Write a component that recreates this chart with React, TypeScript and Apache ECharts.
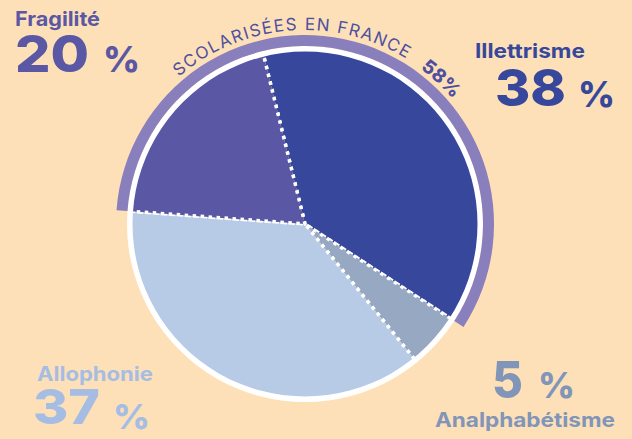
import React, { useEffect, useRef } from 'react';
import * as echarts from 'echarts';

// ---------- data ----------
const categories = ['Illettrisme', 'Analphabétisme', 'Allophonie', 'Fragilité'];
const values = [38, 5, 37, 20];
const arcCategories = ['Fragilité', 'Illettrisme'];
const arcCaption = 'SCOLARISÉES EN FRANCE';
const unit = '%';

// ---------- styles ----------
const BG = '#fde0b8';
const sliceColors: Record<string, string> = {
  Illettrisme: '#36479c',
  Analphabétisme: '#97a8c3',
  Allophonie: '#b8cbe6',
  Fragilité: '#5a58a4',
};
const labelColors: Record<string, string> = {
  Illettrisme: '#36479c',
  Analphabétisme: '#8195b8',
  Allophonie: '#a5bde3',
  Fragilité: '#5a57a4',
};
const ARC_COLOR = '#8a7fbd';
const CAPTION_COLOR = '#4e509f';
const FONT = 'Inter';

const CX = 305;
const CY = 224;
const R = 178;
const START_ANGLE = 103.8;

// label layout: left x, vertical centre of caps, target widths, font sizes
const layout: Record<string, any> = {
  Fragilité: { nameX: 15, nameY: 19, nameW: 85, valX: 15, valY: 53, valW: 74, valS: 51, pctX: 103, pctY: 59, pctS: 36 },
  Illettrisme: { nameX: 475, nameY: 50.5, nameW: 110, valX: 495, valY: 87.5, valW: 71, valS: 51, pctX: 578, pctY: 93.5, pctS: 36 },
  Analphabétisme: { nameX: 435, nameY: 419, nameW: 180, valX: 492, valY: 379.5, valW: 31, valS: 51, pctX: 538, pctY: 384.5, pctS: 36 },
  Allophonie: { nameX: 37, nameY: 374, nameW: 116, valX: 33, valY: 407, valW: 67, valS: 48, pctX: 113, pctY: 416, pctS: 34 },
};
const PCT_W = 37;

export default function App() {
  const ref = useRef<HTMLDivElement>(null);

  useEffect(() => {
    if (!ref.current) return;
    const chart = echarts.init(ref.current, undefined, { renderer: 'svg' });
    const ctx = document.createElement('canvas').getContext('2d')!;
    const measure = (t: string, font: string) => {
      ctx.font = font;
      return ctx.measureText(t).width;
    };

    const total = values.reduce((a, b) => a + b, 0);
    const arcValue = arcCategories.reduce((s, c) => s + values[categories.indexOf(c)], 0);
    const fragIdx = categories.indexOf(arcCategories[0]);
    const before = values.slice(0, fragIdx).reduce((a, b) => a + b, 0);
    const arcStart = START_ANGLE - (360 * before) / total + 360;

    const graphics: any[] = [];
    const txt = (
      text: string,
      x: number,
      y: number,
      font: string,
      size: number,
      fill: string,
      rotation = 0,
      align = 'left',
      scaleX = 1
    ) => ({
      type: 'text',
      x,
      y,
      rotation,
      scaleX,
      silent: true,
      style: {
        text,
        font,
        fill,
        lineHeight: Math.round(size * 0.8),
        align,
        textAlign: align,
        verticalAlign: 'middle',
        textVerticalAlign: 'middle',
      },
    });

    const fitted = (text: string, x: number, y: number, weight: number, size: number, fill: string, targetW: number) => {
      const font = `${weight} ${size}px ${FONT}`;
      const w = measure(text, font);
      const s = Math.max(0.85, Math.min(1.3, targetW / w));
      return txt(text, x, y, font, size, fill, 0, 'left', s);
    };

    categories.forEach((c, i) => {
      const L = layout[c];
      graphics.push(fitted(c, L.nameX, L.nameY, 700, 20, labelColors[c], L.nameW));
      graphics.push(fitted(String(values[i]), L.valX, L.valY, 800, L.valS, labelColors[c], L.valW));
      graphics.push(fitted(unit, L.pctX, L.pctY, 800, L.pctS, labelColors[c], PCT_W));
    });

    // curved caption
    const capSize = 17;
    const capFont = `400 ${capSize}px ${FONT}`;
    const rText = 200;
    const a0 = 129;
    const a1 = 60;
    const chars = Array.from(arcCaption);
    const ws = chars.map((ch) => measure(ch, capFont));
    const natural = ws.reduce((s, w, i) => (i === 0 ? 0 : s + ws[i - 1] / 2 + w / 2), 0);
    const target = (rText * (a0 - a1) * Math.PI) / 180;
    const ls = (target - natural) / (chars.length - 1);
    let pos = 0;
    chars.forEach((ch, i) => {
      if (i > 0) pos += ws[i - 1] / 2 + ls + ws[i] / 2;
      const ang = a0 - ((pos / rText) * 180) / Math.PI;
      const rad = (ang * Math.PI) / 180;
      if (ch !== ' ')
        graphics.push(
          txt(ch, CX + rText * Math.cos(rad), CY - rText * Math.sin(rad), capFont, capSize, CAPTION_COLOR, ((ang - 90) * Math.PI) / 180, 'center')
        );
    });

    // curved percentage of the arc
    const pSize = 19;
    const pFont = `800 ${pSize}px ${FONT}`;
    const pChars = Array.from(`${arcValue}${unit}`);
    const pws = pChars.map((ch) => measure(ch, pFont));
    const pls = 0.5;
    const pc: number[] = [];
    let pp = 0;
    pChars.forEach((ch, i) => {
      if (i > 0) pp += pws[i - 1] / 2 + pls + pws[i] / 2;
      pc.push(pp);
    });
    const pMid = pp / 2;
    const aMid = 47.4;
    pChars.forEach((ch, i) => {
      const ang = aMid + (((pMid - pc[i]) / rText) * 180) / Math.PI;
      const rad = (ang * Math.PI) / 180;
      graphics.push(
        txt(ch, CX + rText * Math.cos(rad), CY - rText * Math.sin(rad), pFont, pSize, CAPTION_COLOR, ((ang - 90) * Math.PI) / 180, 'center')
      );
    });

    chart.setOption({
      animation: false,
      backgroundColor: BG,
      series: [
        {
          type: 'pie',
          center: [CX, CY],
          radius: [0, R - 3],
          startAngle: START_ANGLE,
          clockwise: true,
          silent: true,
          z: 2,
          label: { show: false },
          labelLine: { show: false },
          emphasis: { disabled: true },
          itemStyle: {
            borderColor: '#ffffff',
            borderWidth: 3.5,
            borderType: [3.5, 4.5],
          },
          data: categories.map((c, i) => ({
            name: c,
            value: values[i],
            itemStyle: { color: sliceColors[c] },
          })),
        },
        {
          type: 'pie',
          center: [CX, CY],
          radius: [R - 5.5, R],
          silent: true,
          z: 3,
          label: { show: false },
          labelLine: { show: false },
          emphasis: { disabled: true },
          itemStyle: { color: '#ffffff', borderWidth: 0 },
          data: [{ name: 'ring', value: total }],
        },
        {
          type: 'pie',
          center: [CX, CY],
          radius: [R, R + 11],
          startAngle: arcStart,
          clockwise: true,
          silent: true,
          z: 3,
          label: { show: false },
          labelLine: { show: false },
          emphasis: { disabled: true },
          itemStyle: { borderWidth: 0 },
          data: [
            { name: 'scolarisées', value: arcValue, itemStyle: { color: ARC_COLOR } },
            { name: 'autres', value: total - arcValue, itemStyle: { color: 'rgba(0,0,0,0)' } },
          ],
        },
      ],
      graphic: { elements: graphics },
    });

    return () => chart.dispose();
  }, []);

  return (
    <div
      ref={ref}
      style={{ position: 'absolute', left: 0, top: 0, width: 632, height: 439 }}
    />
  );
}
